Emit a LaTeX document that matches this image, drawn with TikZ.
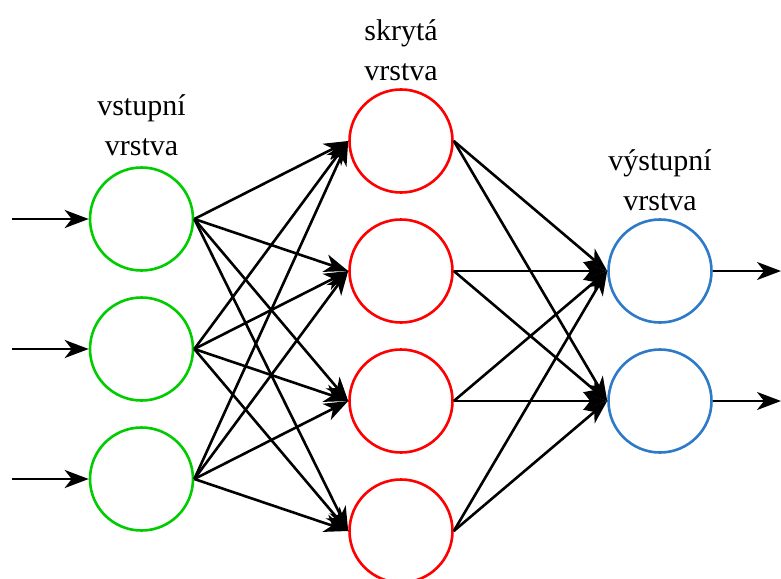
\documentclass[tikz,border=0pt]{standalone}
\usepackage{fontspec}
\setmainfont{Liberation Serif}
\usetikzlibrary{arrows.meta}
\definecolor{ingreen}{RGB}{0,204,0}
\definecolor{hidred}{RGB}{255,0,0}
\definecolor{outblue}{RGB}{44,122,200}
\begin{document}
\begin{tikzpicture}[x=1pt,y=-1pt,
  neuron/.style={circle,draw,line width=2.6pt,minimum size=103pt,inner sep=0pt},
  inneuron/.style={neuron,draw=ingreen},
  hidneuron/.style={neuron,draw=hidred},
  outneuron/.style={neuron,draw=outblue},
  link/.style={line width=2.6pt,-{Stealth[length=24pt,width=18pt,inset=7pt]}},
  caption/.style={align=center,font=\fontsize{30}{40}\selectfont,inner sep=0pt}]
\useasboundingbox (0,0) rectangle (781,578);
% input layer
\node[inneuron] (i1) at (141.5,219) {};
\node[inneuron] (i2) at (141.5,349) {};
\node[inneuron] (i3) at (141.5,479) {};
% hidden layer
\node[hidneuron] (h1) at (401,141) {};
\node[hidneuron] (h2) at (401,271) {};
\node[hidneuron] (h3) at (401,401) {};
\node[hidneuron] (h4) at (401,531) {};
% output layer
\node[outneuron] (o1) at (660,271) {};
\node[outneuron] (o2) at (660,401) {};
% layer captions
\node[caption] (cin) at (141.5,125) {vstupní\\vrstva};
\node[caption] (chid) at (401,50) {skrytá\\vrstva};
\node[caption] (cout) at (660,180) {výstupní\\vrstva};
% free ends of the outer arrows
\coordinate (s1) at (12,219);
\coordinate (s2) at (12,349);
\coordinate (s3) at (12,479);
\coordinate (e1) at (781,271);
\coordinate (e2) at (781,401);
\foreach \k in {1,2,3} \draw[link] (s\k) -- (i\k.west);
\foreach \i in {1,2,3}
  \foreach \h in {1,2,3,4}
    \draw[link] (i\i.east) -- (h\h.west);
\foreach \h in {1,2,3,4}
  \foreach \o in {1,2}
    \draw[link] (h\h.east) -- (o\o.west);
\foreach \k in {1,2} \draw[link] (o\k.east) -- (e\k);
\end{tikzpicture}
\end{document}
